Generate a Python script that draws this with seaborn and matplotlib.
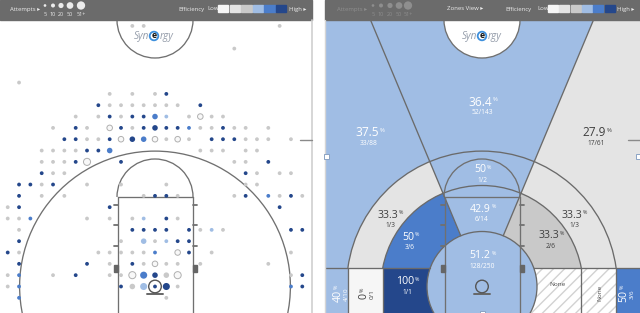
import numpy as np
import pandas as pd
import matplotlib
matplotlib.use("Agg")
import matplotlib.pyplot as plt
from matplotlib.patches import Rectangle, Circle, Wedge, Polygon, Arc
import seaborn as sns

# ---------------- data ----------------
eff_levels = [0, 1, 2, 3, 4, 5]
eff_colors = ["#f6f6f6", "#e4e4e4", "#c9c9c9", "#a0bde4", "#4b7dca", "#24478b"]
att_buckets = [5, 10, 20, 50, 51]
att_labels = ["5", "10", "20", "50", "51+"]

# shot grid locations (grid columns / rows from the basket), efficiency level, attempts bucket
shot_col = [
    -2, -1, 11,
    7,
    -12,
    -4, -2, 0, 1,
    -5, -4, -3, -2, -1, 0, 1, 2, 4,
    -7, -5, -4, -3, -2, -1, 0, 1, 3, 4, 5, 6,
    -9, -7, -6, -4, -3, -2, -1, 0, 1, 2, 3, 4, 5, 6, 7, 8, 10,
    -8, -7, -6, -5, -4, -3, -2, -1, 0, 1, 2, 3, 5, 6, 7, 8, 9, 10, 12,
    -10, -9, -8, -7, -6, -5, -4, 4, 5, 6, 8, 9,
    -10, -9, -8, -7, -6, -3, 7, 8, 10,
    -10, -9, -8, 8, 9, 11, 12,
    -12, -11, -10, -9, -6, -3, 1, 8, 9,
    -12, -10, -8, -1, 0, 1, 2, 7, 8, 10, 11, 12, 13,
    -13, -12, -4, 11,
    -13, -12, -11, -6, -4, -2, -1, 1, 2,
    -12, -2, -1, 0, 1, 3, 4, 5, 6, 12, 13,
    -12, -3, -1, 0, 1, 2, 3,
    -13, -12, -5, -4, -3, -2, -1, 0, 2, 3, 5, 12,
    -12, -6, -4, -2, -1, 0, 1, 2, 4, 10,
    -13, -12, -9, -7, -4, -3, -2, -1, 0, 1, 2, 12, 13,
    -13, -12, -3, -2, -1, 0, 1, 2, 12, 13,
    -12, 1,
]
shot_row = [
    23, 23, 23,
    21,
    18,
    17, 17, 17, 17,
    16, 16, 16, 16, 16, 16, 16, 16, 16,
    15, 15, 15, 15, 15, 15, 15, 15, 15, 15, 15, 15,
    14, 14, 14, 14, 14, 14, 14, 14, 14, 14, 14, 14, 14, 14, 14, 14, 14,
    13, 13, 13, 13, 13, 13, 13, 13, 13, 13, 13, 13, 13, 13, 13, 13, 13, 13, 13,
    12, 12, 12, 12, 12, 12, 12, 12, 12, 12, 12, 12,
    11, 11, 11, 11, 11, 11, 11, 11, 11,
    10, 10, 10, 10, 10, 10, 10,
    9, 9, 9, 9, 9, 9, 9, 9, 9,
    8, 8, 8, 8, 8, 8, 8, 8, 8, 8, 8, 8, 8,
    7, 7, 7, 7,
    6, 6, 6, 6, 6, 6, 6, 6, 6,
    5, 5, 5, 5, 5, 5, 5, 5, 5, 5, 5,
    4, 4, 4, 4, 4, 4, 4,
    3, 3, 3, 3, 3, 3, 3, 3, 3, 3, 3, 3,
    2, 2, 2, 2, 2, 2, 2, 2, 2, 2,
    1, 1, 1, 1, 1, 1, 1, 1, 1, 1, 1, 1, 1,
    0, 0, 0, 0, 0, 0, 0, 0, 0, 0,
    -1, -1,
]
shot_eff = [
    2, 2, 2,
    2,
    2,
    2, 2, 2, 5,
    5, 2, 2, 2, 2, 2, 2, 2, 5,
    2, 2, 5, 2, 5, 5, 4, 3, 2, 0, 2, 2,
    2, 5, 2, 0, 5, 2, 5, 5, 5, 5, 4, 2, 2, 5, 2, 2, 2,
    5, 5, 2, 2, 5, 0, 5, 4, 0, 2, 0, 2, 5, 5, 5, 2, 2, 2, 2,
    2, 2, 2, 2, 5, 5, 4, 2, 2, 2, 2, 2,
    2, 2, 2, 5, 0, 5, 2, 2, 5,
    5, 2, 2, 5, 2, 2, 2,
    5, 5, 2, 5, 2, 2, 2, 2, 2,
    5, 2, 2, 2, 5, 5, 2, 2, 5, 4, 2, 5, 2,
    2, 5, 5, 5,
    2, 2, 4, 2, 2, 2, 3, 5, 2,
    2, 5, 5, 5, 5, 5, 2, 3, 2, 5, 5,
    5, 2, 3, 2, 3, 5, 5,
    5, 2, 2, 2, 2, 2, 2, 4, 0, 5, 2, 2,
    5, 5, 2, 5, 2, 0, 2, 2, 2, 2,
    2, 4, 2, 5, 2, 2, 0, 4, 5, 2, 0, 2, 5,
    2, 4, 5, 2, 3, 5, 5, 2, 4, 5,
    4, 2,
]
shot_att = [
    5, 5, 5,
    5,
    5,
    5, 5, 5, 5,
    5, 5, 5, 5, 5, 5, 5, 5, 5,
    5, 5, 5, 5, 5, 5, 10, 5, 5, 10, 5, 5,
    5, 5, 5, 10, 5, 5, 5, 10, 5, 5, 5, 5, 5, 5, 5, 5, 5,
    5, 5, 5, 5, 5, 10, 10, 10, 10, 5, 10, 5, 5, 5, 5, 5, 5, 5, 5,
    5, 5, 5, 5, 5, 5, 10, 5, 5, 5, 5, 5,
    5, 5, 5, 5, 20, 5, 5, 5, 5,
    5, 5, 5, 5, 5, 5, 5,
    5, 5, 5, 5, 5, 5, 5, 5, 5,
    5, 5, 5, 5, 5, 5, 5, 5, 5, 5, 5, 5, 5,
    5, 5, 5, 5,
    5, 5, 5, 5, 5, 5, 5, 5, 5,
    5, 5, 5, 5, 5, 5, 5, 5, 5, 5, 5,
    5, 5, 10, 5, 5, 5, 5,
    5, 5, 5, 5, 5, 5, 5, 5, 10, 5, 5, 5,
    5, 5, 5, 5, 5, 10, 5, 5, 5, 5,
    5, 5, 5, 5, 5, 5, 20, 20, 10, 10, 20, 5, 5,
    5, 5, 5, 10, 20, 5, 20, 5, 5, 5,
    5, 5,
]

# zones view
zone_key = ["three_l", "three_c", "three_r", "corner_l", "corner_r",
            "long_l", "long_c", "long_r", "short_l", "short_c", "short_r",
            "base_long_l", "base_short_l", "base_short_r", "base_long_r", "rim"]
zone_made = [33, 52, 17, 4, 3, 1, 1, 1, 3, 6, 2, 0, 1, 0, 0, 128]
zone_att = [88, 143, 61, 10, 6, 3, 2, 3, 6, 14, 6, 1, 1, 0, 0, 250]
zone_eff = [3, 3, 1, 3, 4, 1, 3, 1, 4, 3, 2, 0, 5, None, None, 3]

# ---------------- layout / style ----------------
sns.set_theme(style="white")
plt.rcParams["font.family"] = ["Open Sans", "DejaVu Sans"]

W, H = 640, 313
U = 11.33            # pixels per grid unit
Y0 = 286.5           # pixel row of the basket
LINE = "#707070"
LW = 0.95

LANE = 37.5 / U
FT_Y = (Y0 - 197) / U
FT_R = 38 / U
HC_Y = (Y0 - 20) / U
HC_R = 38 / U
R3 = 11.95
RM = 101 / U
RRA = 55 / U
Y_BASE = (Y0 - 268) / U
ANG = 22.7
RIM_R = 6.3 / U
BB_Y = (Y0 - 294) / U
BB_W = 8 / U
HASH_Y = [(Y0 - 205) / U, (Y0 - 225) / U, (Y0 - 246) / U]
HASH_L = 4 / U
BLK_Y0, BLK_H, BLK_W = (Y0 - 272) / U, 7 / U, 4 / U
FAR = 60

fig = plt.figure(figsize=(6.4, 3.13), dpi=100)
fig.patch.set_facecolor("white")


def add_panel(x0, w, cx):
    ax = fig.add_axes([x0 / W, 0, w / W, 1])
    return ax


def finish_panel(ax, x0, w, cx):
    ax.set_xlim((x0 - cx) / U, (x0 + w - cx) / U)
    ax.set_ylim((Y0 - H) / U, Y0 / U)
    ax.set_axis_off()


def court_lines(ax, hc_fill, z=5):
    for sx in (-1, 1):
        ax.plot([sx * LANE, sx * LANE], [FT_Y, -5], color=LINE, lw=LW, zorder=z)
        for hy in HASH_Y:
            ax.plot([sx * LANE, sx * (LANE + HASH_L)], [hy, hy], color=LINE, lw=1.3, zorder=z)
        bx = LANE if sx > 0 else -LANE - BLK_W
        ax.add_patch(Rectangle((bx, BLK_Y0), BLK_W, BLK_H, color="#666666", zorder=z))
    ax.plot([-LANE, LANE], [FT_Y, FT_Y], color=LINE, lw=LW, zorder=z)
    ax.add_patch(Arc((0, FT_Y), 2 * FT_R, 2 * FT_R, theta1=0, theta2=180, color=LINE, lw=LW, zorder=z))
    ax.add_patch(Circle((0, HC_Y), HC_R, fc="white" if hc_fill else "none", ec=LINE, lw=LW, zorder=z))
    ax.add_patch(Circle((0, 0), RIM_R, fc="none", ec="#555555", lw=1.0, zorder=z + 2))
    ax.plot([-BB_W, BB_W], [BB_Y, BB_Y], color="#666666", lw=1.4, zorder=z)


# ---------- left panel: shot dots ----------
axL = add_panel(0, 312, 155)
shots = pd.DataFrame({"col": shot_col, "row": shot_row, "eff": shot_eff, "att": shot_att})
size_map = {5: 7.5, 10: 16.0, 20: 26.0, 50: 36.0, 51: 48.0}
pal = dict(zip(eff_levels, eff_colors))
filled = shots[shots["eff"] > 0]
hollow = shots[shots["eff"] == 0]
sns.scatterplot(data=filled, x="col", y="row", hue="eff", palette=pal, size="att",
                sizes=size_map, linewidth=0, legend=False, ax=axL, zorder=6)
sns.scatterplot(data=hollow, x="col", y="row", size="att", sizes=size_map,
                color="#f8f8f8", edgecolor="#b0b0b0", linewidth=0.7, legend=False, ax=axL, zorder=6)
court_lines(axL, hc_fill=False)
axL.add_patch(Arc((0, 0), 2 * R3, 2 * R3, theta1=-20, theta2=200, color=LINE, lw=LW, zorder=5))
finish_panel(axL, 0, 312, 155)

# ---------- right panel: zones ----------
axR = add_panel(325, 315, 482)
eff_of = dict(zip(zone_key, zone_eff))


def paint(key, patch):
    e = eff_of[key]
    if e is None:
        patch.set_facecolor("white")
        patch.set_edgecolor("#d2d2d2")
        patch.set_linewidth(0)
        patch.set_hatch("///")
    else:
        patch.set_facecolor(eff_colors[e])
        patch.set_edgecolor("none")
    patch.set_zorder(1)
    axR.add_patch(patch)


aL, aR = np.deg2rad(90 + ANG), np.deg2rad(90 - ANG)
PL = (FAR * np.cos(aL), FAR * np.sin(aL))
PR = (FAR * np.cos(aR), FAR * np.sin(aR))
XC3 = np.sqrt(R3 ** 2 - Y_BASE ** 2)
XCM = np.sqrt(RM ** 2 - Y_BASE ** 2)
XRA = np.sqrt(RRA ** 2 - Y_BASE ** 2)

paint("three_l", Polygon([(0, 0), PL, (-FAR, PL[1]), (-FAR, 0)]))
paint("three_c", Polygon([(0, 0), PL, PR]))
paint("three_r", Polygon([(0, 0), PR, (FAR, PR[1]), (FAR, 0)]))
paint("long_l", Wedge((0, 0), R3, 90 + ANG, 180))
paint("long_c", Wedge((0, 0), R3, 90 - ANG, 90 + ANG))
paint("long_r", Wedge((0, 0), R3, 0, 90 - ANG))
paint("short_l", Wedge((0, 0), RM, 90 + ANG, 180))
paint("short_c", Wedge((0, 0), RM, 90 - ANG, 90 + ANG))
paint("short_r", Wedge((0, 0), RM, 0, 90 - ANG))
paint("corner_l", Rectangle((-FAR, -FAR), FAR - XC3, FAR + Y_BASE))
paint("base_long_l", Rectangle((-XC3, -FAR), XC3 - XCM, FAR + Y_BASE))
paint("base_short_l", Rectangle((-XCM, -FAR), XCM, FAR + Y_BASE))
paint("base_short_r", Rectangle((0, -FAR), XCM, FAR + Y_BASE))
paint("base_long_r", Rectangle((XCM, -FAR), XC3 - XCM, FAR + Y_BASE))
paint("corner_r", Rectangle((XC3, -FAR), FAR - XC3, FAR + Y_BASE))
paint("rim", Circle((0, 0), RRA))

ZL = "#6a6a6a"
for r, xc in ((R3, XC3), (RM, XCM)):
    a0 = np.degrees(np.arcsin(Y_BASE / r))
    axR.add_patch(Arc((0, 0), 2 * r, 2 * r, theta1=a0, theta2=180 - a0, color=ZL, lw=LW, zorder=3))
    for sx in (-1, 1):
        axR.plot([sx * xc, sx * xc], [Y_BASE, -FAR], color=ZL, lw=LW, zorder=3)
axR.plot([-FAR, -XRA], [Y_BASE, Y_BASE], color=ZL, lw=LW, zorder=3)
axR.plot([XRA, FAR], [Y_BASE, Y_BASE], color=ZL, lw=LW, zorder=3)
for a in (aL, aR):
    axR.plot([RRA * np.cos(a), FAR * np.cos(a)], [RRA * np.sin(a), FAR * np.sin(a)], color=ZL, lw=LW, zorder=3)
axR.add_patch(Circle((0, 0), RRA, fc="none", ec=ZL, lw=LW, zorder=3))
court_lines(axR, hc_fill=True)
finish_panel(axR, 325, 315, 482)

# ---------- overlay: header bars, labels, logo ----------
axH = fig.add_axes([0, 0, 1, 1], zorder=10)
axH.set_xlim(0, W)
axH.set_ylim(H, 0)
axH.set_axis_off()

HDR = "#6b6b6b"
TXT = "#ececec"
DIM = "#8e8e8e"
axH.add_patch(Rectangle((0, 0), 312, 20, color=HDR))
axH.add_patch(Rectangle((325, 0), 315, 20, color=HDR))
axH.plot([312, 312], [20, H], color="#cfcfcf", lw=1.2)
axH.plot([324.5, 324.5], [20, H], color="#d5d5d5", lw=1.0)
axH.plot([300, 312], [140, 140], color="#8a8a8a", lw=1.0)
axH.plot([628, 640], [140, 140], color="#8a8a8a", lw=1.0)

legend_d = [2.7, 4.0, 5.2, 6.7, 8.3]


def header(x0, att_color, dots_x, eff_x, box_x0, box_step, zones_view):
    axH.text(x0, 9, "Attempts \u25b8", fontsize=4.3, color=att_color, va="center", ha="left")
    axH.scatter(dots_x, [5.5] * len(dots_x), s=[(d * 0.72) ** 2 for d in legend_d],
                color=att_color, linewidths=0, zorder=12)
    for xx, lab in zip(dots_x, att_labels):
        axH.text(xx, 14.5, lab, fontsize=3.9, color=att_color, ha="center", va="center")
    if zones_view:
        axH.text(447, 9, "Zones View \u25b8", fontsize=4.3, color=TXT, va="center", ha="left")
    axH.text(eff_x, 9, "Efficiency", fontsize=4.3, color=TXT, va="center", ha="left")
    axH.text(box_x0 - 11, 9, "Low", fontsize=4.3, color=TXT, va="center", ha="left")
    for i, c in enumerate(eff_colors):
        axH.add_patch(Rectangle((box_x0 + i * box_step, 5.2), box_step - 1.2, 7.2, color=c, zorder=12))
    axH.text(box_x0 + 6 * box_step + 1.5, 9, "High \u25b8", fontsize=4.3, color=TXT, va="center", ha="left")


header(10, TXT, [45, 53, 61, 70, 81], 178, 218, 11.6, False)
header(337, DIM, [373, 381, 390, 399, 408], 505, 548, 11.3, True)


def logo(cx, cy):
    axH.text(cx - 5.3, cy, "Syn", ha="right", va="center", fontsize=7.2, style="italic", color="#959daa")
    axH.add_patch(Circle((cx, cy), 4.3, fc="white", ec="#3d8fdc", lw=1.3, zorder=12))
    axH.text(cx, cy - 0.3, "e", ha="center", va="center", fontsize=6.3, fontweight="bold", color="#111111", zorder=13)
    axH.text(cx + 5.3, cy, "rgy", ha="left", va="center", fontsize=7.2, style="italic", color="#959daa")


logo(154, 36)
logo(482, 36)

# selection handles
for hx, hy in ((326, 156), (638, 156), (482, 313)):
    axH.add_patch(Rectangle((hx - 2.5, hy - 2.5), 5, 5, fc="white", ec="#8aa3c4", lw=0.7, zorder=12))

# zone labels (pixel layout)
label_px = {
    "three_c": (482, 102, 0), "three_l": (369, 133, 0), "three_r": (596, 133, 0),
    "long_c": (482, 170, 0), "long_l": (390, 215, 0), "long_r": (574, 215, 0),
    "short_c": (482, 209, 0), "short_l": (410, 237, 0), "short_r": (551, 236, 0),
    "rim": (482, 256, 0), "base_short_l": (407, 282, 0), "base_long_l": (364, 296, 90),
    "corner_l": (338, 296, 90), "corner_r": (624, 296, 90),
    "base_short_r": (558, 284, 0), "base_long_r": (600, 293, 90),
}

for key, made, att, e in zip(zone_key, zone_made, zone_att, zone_eff):
    x, y, rot = label_px[key]
    if att == 0:
        axH.text(x, y, "None", fontsize=4.6, color="#4a4a4a", ha="center", va="center", rotation=rot)
        continue
    pct = 100.0 * made / att
    num = ("%d" % round(pct)) if abs(pct - round(pct)) < 0.05 else ("%.1f" % pct)
    col = "white" if e >= 3 else "#3f3f3f"
    fs = 8.6 if key.startswith("three") else 7.6
    frac = "%d/%d" % (made, att)
    if rot == 0:
        t = axH.text(x - 2, y, num, fontsize=fs, color=col, ha="center", va="center")
        axH.annotate("%", xy=(1.0, 0.92), xycoords=t, xytext=(0.6, 0), textcoords="offset points",
                     fontsize=fs * 0.5, color=col, ha="left", va="top")
        axH.text(x, y + 10.5, frac, fontsize=4.8, color=col, ha="center", va="center")
    else:
        t = axH.text(x, y, num, fontsize=fs, color=col, ha="center", va="center", rotation=90)
        axH.annotate("%", xy=(0.08, 1.0), xycoords=t, xytext=(0, 0.6), textcoords="offset points",
                     fontsize=fs * 0.5, color=col, ha="left", va="bottom", rotation=90)
        axH.text(x + 8, y - 2, frac, fontsize=4.6, color=col, ha="center", va="center", rotation=90)

fig.savefig("out.png", dpi=100)
